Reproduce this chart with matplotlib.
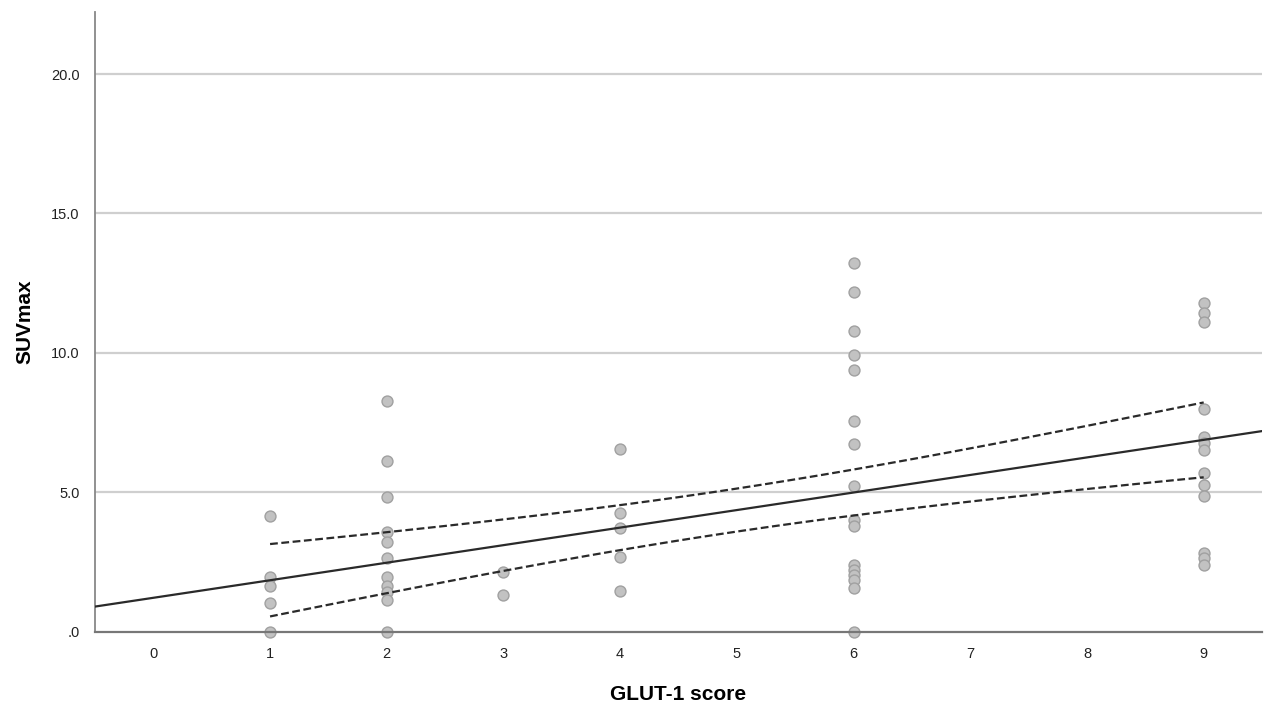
"""Scatter of SUVmax against GLUT-1 score with linear fit and 95% CI of the mean."""

import matplotlib
matplotlib.use("Agg")
import matplotlib.pyplot as plt
import numpy as np

plt.rcParams["font.family"] = ["Liberation Sans", "DejaVu Sans"]

# GLUT-1 score groups and the SUVmax values read for each one
score_groups = [1, 2, 3, 4, 6, 9]
suv_1 = [4.15, 1.98, 1.65, 1.03, 0.0]
suv_2 = [8.28, 6.13, 4.85, 3.6, 3.24, 2.64, 1.98, 1.65, 1.45, 1.15, 0.0]
suv_3 = [2.16, 1.33]
suv_4 = [6.55, 4.28, 3.74, 2.70, 1.48]
suv_6 = [13.21, 12.2, 10.8, 9.93, 9.39, 7.56, 6.74, 5.23, 4.0, 3.81,
         2.40, 2.22, 2.04, 1.86, 1.57, 0.0]
suv_9 = [11.8, 11.42, 11.12, 7.98, 7.0, 6.76, 6.52, 5.69, 5.27, 4.87,
         2.82, 2.64, 2.40]

# fitted line and mean CI band
fit_intercept = 1.225
fit_slope = 0.629
ci_x_mean = 4.9
ci_var_min = 0.593      # squared half-width at the mean score
ci_var_curv = 0.0717    # growth of squared half-width per squared score distance

x_ticks = list(range(10))
y_ticks = [0, 5, 10, 15, 20]
y_tick_labels = [".0", "5.0", "10.0", "15.0", "20.0"]


def main():
    groups = [suv_1, suv_2, suv_3, suv_4, suv_6, suv_9]
    x = np.concatenate([[s] * len(g) for s, g in zip(score_groups, groups)]).astype(float)
    y = np.concatenate(groups)

    fig = plt.figure(figsize=(12.77, 7.1), dpi=100)
    ax = fig.add_axes([0.0744, 0.1099, 0.9139, 0.8731])

    for yt in y_ticks[1:]:
        ax.axhline(yt, color="#cfcfcf", linewidth=1.6, zorder=0)

    ax.scatter(x, y, s=62, facecolor="#c2c2c2", edgecolor="#a0a0a0",
               linewidth=1.0, zorder=2, clip_on=False)

    xl = np.linspace(-0.5, 9.5, 50)
    ax.plot(xl, fit_intercept + fit_slope * xl, color="#2a2a2a",
            linewidth=1.6, zorder=3)

    xb = np.linspace(x.min(), x.max(), 60)
    half = np.sqrt(ci_var_min + ci_var_curv * (xb - ci_x_mean) ** 2)
    fit_b = fit_intercept + fit_slope * xb
    for band in (fit_b + half, fit_b - half):
        ax.plot(xb, band, color="#2a2a2a", linewidth=1.6,
                linestyle=(0, (3.5, 1.6)), zorder=3)

    ax.set_xlim(-0.5, 9.5)
    ax.set_ylim(0, 22.22)
    ax.set_xticks(x_ticks)
    ax.set_yticks(y_ticks)
    ax.set_yticklabels(y_tick_labels)
    ax.tick_params(length=0, labelsize=10.5, colors="#222222")
    ax.tick_params(axis="x", pad=11)
    ax.tick_params(axis="y", pad=11)

    for side in ("top", "right"):
        ax.spines[side].set_visible(False)
    ax.spines["left"].set_color("#888888")
    ax.spines["bottom"].set_color("#777777")
    ax.spines["left"].set_linewidth(1.3)
    ax.spines["bottom"].set_linewidth(1.6)

    ax.set_xlabel("GLUT-1 score", fontsize=15, fontweight="bold", labelpad=17)
    ax.set_ylabel("SUVmax", fontsize=15, fontweight="bold", labelpad=12)

    fig.savefig("out.png", dpi=100)


if __name__ == "__main__":
    main()
